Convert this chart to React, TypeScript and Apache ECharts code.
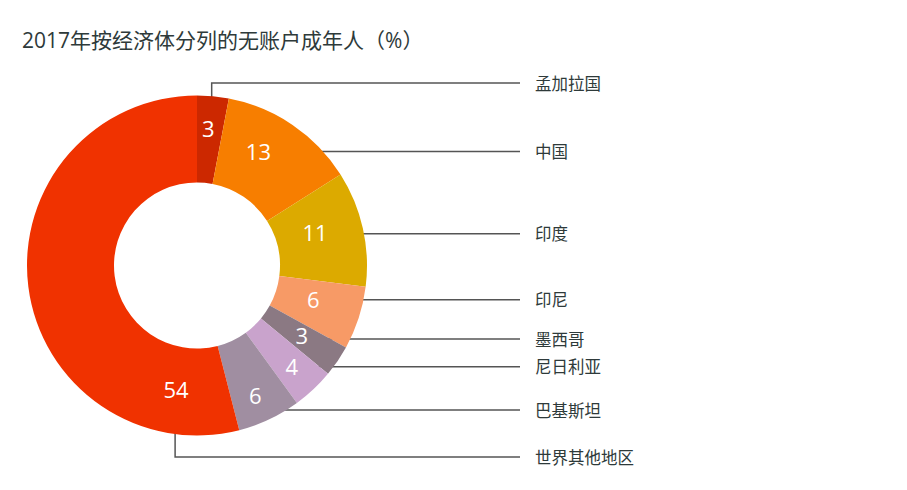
import React, { useEffect, useRef } from 'react';
import * as echarts from 'echarts';

// ---- data ----
const categories = ['孟加拉国', '中国', '印度', '印尼', '墨西哥', '尼日利亚', '巴基斯坦', '世界其他地区'];
const values = [3, 13, 11, 6, 3, 4, 6, 54];
const colors = ['#cc2800', '#f77e00', '#dcaa00', '#f79a66', '#8b7983', '#c9a3cc', '#a08ea1', '#f03200'];
const titleText = '2017年按经济体分列的无账户成年人（%）';

// ---- layout constants ----
const CX = 197;
const CY = 265.5;
const R_IN = 83;
const R_OUT = 170;
const numberLabelAngle = [4.7, 28.2, 74.3, 106.1, 123.6, 136.8, 155.8, 189.6];
const numberLabelRadius = [137.7, 129.9, 122.6, 121, 125.7, 138.3, 142.5, 125.3];
const leaderOffset = [[3.4, -15], [19.4, 0], [16.7, 0], [12.7, 0], [10, 0], [18.3, 0], [5.7, 0], [-1, 16]];
const nameLabelY = [83, 151.5, 233.7, 299.7, 339, 366.7, 410, 457];
const LINE_END_X = 520;
const NAME_X = 535;
const FONT = "'Open Sans', 'Noto Sans CJK SC', sans-serif";

function numberPos(i: number): [number, number] {
  const a = (numberLabelAngle[i] * Math.PI) / 180;
  const r = numberLabelRadius[i];
  return [CX + r * Math.sin(a), CY - r * Math.cos(a)];
}

export default function App() {
  const ref = useRef<HTMLDivElement>(null);
  useEffect(() => {
    if (!ref.current) return;
    const chart = echarts.init(ref.current, null, { renderer: 'svg' });
    const data = categories.map((name, i) => ({ name, value: values[i], itemStyle: { color: colors[i] } }));
    chart.setOption({
      animation: false,
      title: {
        text: titleText,
        left: 17,
        top: 24,
        textStyle: { fontSize: 21, fontWeight: 'normal', color: '#2e3a3a', fontFamily: FONT },
      },
      series: [
        {
          type: 'pie',
          center: [CX, CY],
          radius: [R_IN, R_OUT],
          startAngle: 90,
          clockwise: true,
          avoidLabelOverlap: false,
          silent: true,
          data,
          itemStyle: { borderWidth: 0 },
          label: {
            show: true,
            position: 'inside',
            formatter: '{c}',
            color: '#ffffff',
            fontSize: 22,
            fontFamily: FONT,
          },
          labelLine: { show: false },
          labelLayout: (p: any) => {
            const [x, y] = numberPos(p.dataIndex);
            return { x, y, align: 'center', verticalAlign: 'middle' };
          },
        },
        {
          type: 'pie',
          center: [CX, CY],
          radius: [R_IN, R_OUT],
          startAngle: 90,
          clockwise: true,
          avoidLabelOverlap: false,
          silent: true,
          data: categories.map((name, i) => ({ name, value: values[i] })),
          itemStyle: { color: 'rgba(0,0,0,0)', borderWidth: 0 },
          label: {
            show: true,
            position: 'outside',
            formatter: '{b}',
            color: '#2e3a3a',
            fontSize: 16.5,
            fontFamily: FONT,
          },
          labelLine: {
            show: true,
            length: 10,
            length2: 10,
            lineStyle: { color: '#555555', width: 1.5 },
          },
          labelLayout: (p: any) => {
            const i = p.dataIndex;
            const [nx, ny] = numberPos(i);
            const [dx, dy] = leaderOffset[i];
            const ty = nameLabelY[i];
            let pts: number[][];
            if (Math.abs(ty - ny) < 20) {
              const sx = nx + dx;
              pts = [[sx, ty], [(sx + LINE_END_X) / 2, ty], [LINE_END_X, ty]];
            } else {
              const sx = nx + dx;
              const sy = ny + dy;
              pts = [[sx, sy], [sx, ty], [LINE_END_X, ty]];
            }
            return { x: NAME_X, y: ty, align: 'left', verticalAlign: 'middle', labelLinePoints: pts };
          },
        },
      ],
    });
    return () => chart.dispose();
  }, []);
  return <div ref={ref} style={{ position: 'absolute', left: 0, top: 0, width: 907, height: 490 }} />;
}
